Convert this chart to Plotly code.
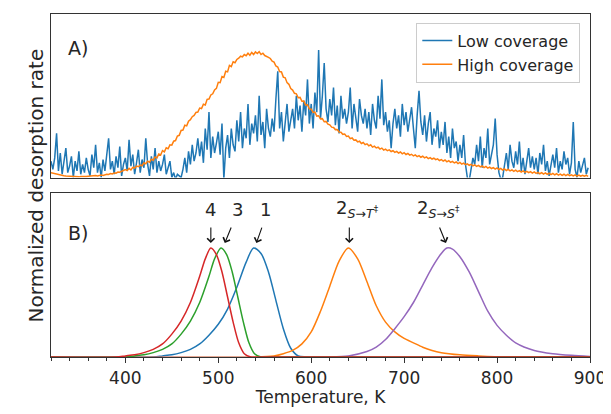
import plotly.graph_objects as go
import numpy as np
from plotly.subplots import make_subplots

# ---- panel A: measured TPD traces, 2 K grid from 320 K ----
temp_a = np.arange(320, 900, 2)

low_cov = [0.1, 0.05, 0.12, 0.27, 0.04, 0.15, 0.02, 0.09, 0.18, 0.03,
           0.07, 0.13, 0.0, 0.1, 0.04, 0.16, 0.02, 0.08, 0.03, 0.12,
           0.05, 0.01, 0.14, 0.06, 0.2, 0.03, 0.09, 0.0, 0.11, 0.04,
           0.15, 0.24, 0.05, 0.1, 0.02, 0.13, 0.06, 0.19, 0.01, 0.08,
           0.12, 0.04, 0.23, 0.07, 0.14, 0.02, 0.09, 0.17, 0.03, 0.11,
           0.06, 0.24, 0.08, 0.01, 0.13, 0.05, 0.18, 0.03, 0.1, 0.04,
           0.08, 0.14, 0.02, 0.06, 0.1, 0.0, 0.03, -0.01, 0.02, 0.01,
           0.0, 0.05, 0.12, 0.03, 0.16, 0.08, 0.2, 0.1, 0.15, 0.24,
           0.13, 0.22, 0.09, 0.3, 0.17, 0.4, 0.12, 0.25, 0.15, 0.21,
           0.28, 0.14, 0.33, -0.01, 0.18, 0.26, 0.12, 0.3, 0.2, 0.16,
           0.35, 0.22, 0.4, 0.18, 0.3, 0.24, 0.45, 0.2, 0.33, 0.27,
           0.38, 0.22, 0.5, 0.26, 0.34, 0.18, 0.42, 0.3, 0.25, 0.36,
           0.28, 0.48, 0.65, 0.3, 0.4, 0.22, 0.36, 0.45, 0.28, 0.34,
           0.42, 0.3, 0.5, 0.35, 0.44, 0.28, 0.47, 0.38, 0.6, 0.33,
           0.45, 0.3, 0.52, 0.4, 0.78, 0.36, 0.5, 0.7, 0.42, 0.34,
           0.48, 0.38, 0.55, 0.32, 0.44, 0.27, 0.5, 0.36, 0.42, 0.33,
           0.4, 0.55, 0.3, 0.45, 0.36, 0.28, 0.48, 0.38, 0.33, 0.42,
           0.3, 0.4, 0.26, 0.45, 0.35, 0.3, 0.5, 0.36, 0.6, 0.32,
           0.4, 0.28, 0.35, 0.18, 0.33, 0.42, 0.3, 0.38, 0.25, 0.45,
           0.32, 0.4, 0.28, 0.36, 0.43, 0.3, 0.18, 0.38, 0.53, 0.34,
           0.26, 0.38, 0.22, 0.33, 0.4, 0.2, 0.3, 0.25, 0.35, 0.18,
           0.28, 0.2, 0.34, 0.15, 0.25, 0.12, 0.3, 0.18, 0.22, 0.1,
           0.2, 0.12, 0.26, 0.08, 0.0, -0.02, 0.05, 0.12, 0.08, 0.2,
           0.1, 0.25, 0.06, 0.18, 0.12, 0.3, 0.08, 0.15, 0.2, 0.36,
           0.14, 0.03, -0.01, 0.0, 0.08, 0.15, 0.05, 0.2, 0.1, 0.06,
           0.16, 0.08, 0.22, 0.04, 0.12, 0.02, 0.1, 0.18, 0.06, 0.13,
           0.05, 0.12, 0.02, 0.15, 0.08, 0.2, 0.04, 0.1, 0.01, 0.07,
           0.14, 0.06, 0.18, 0.03, 0.1, 0.05, 0.16, 0.08, 0.12, 0.02,
           0.09, 0.34, 0.05, 0.0, 0.1, 0.03, 0.08, 0.12, 0.02, 0.06]

high_cov = [0.03, 0.027, 0.022, 0.02, 0.016, 0.015, 0.012, 0.011, 0.009, 0.008,
            0.008, 0.006, 0.007, 0.005, 0.006, 0.004, 0.006, 0.005, 0.008, 0.007,
            0.008, 0.01, 0.009, 0.011, 0.012, 0.01, 0.014, 0.015, 0.013, 0.017,
            0.02, 0.019, 0.024, 0.022, 0.028, 0.027, 0.033, 0.032, 0.038, 0.04,
            0.048, 0.042, 0.056, 0.046, 0.062, 0.058, 0.07, 0.066, 0.076, 0.072,
            0.09, 0.084, 0.1, 0.094, 0.112, 0.106, 0.126, 0.12, 0.144, 0.138,
            0.165, 0.157, 0.182, 0.176, 0.2, 0.198, 0.222, 0.226, 0.254, 0.258,
            0.288, 0.29, 0.32, 0.316, 0.345, 0.354, 0.372, 0.38, 0.398, 0.4,
            0.425, 0.422, 0.448, 0.444, 0.478, 0.48, 0.505, 0.512, 0.536, 0.545,
            0.582, 0.58, 0.618, 0.612, 0.65, 0.646, 0.686, 0.678, 0.708, 0.702,
            0.722, 0.73, 0.742, 0.738, 0.752, 0.745, 0.76, 0.748, 0.765, 0.752,
            0.768, 0.758, 0.77, 0.752, 0.76, 0.746, 0.742, 0.735, 0.728, 0.712,
            0.706, 0.682, 0.676, 0.648, 0.646, 0.614, 0.61, 0.58, 0.57, 0.544,
            0.535, 0.515, 0.512, 0.488, 0.49, 0.466, 0.467, 0.444, 0.445, 0.42,
            0.418, 0.398, 0.4, 0.376, 0.378, 0.358, 0.36, 0.341, 0.343, 0.326,
            0.322, 0.308, 0.306, 0.293, 0.294, 0.278, 0.277, 0.264, 0.266, 0.251,
            0.254, 0.238, 0.242, 0.228, 0.23, 0.218, 0.222, 0.208, 0.214, 0.201,
            0.206, 0.194, 0.2, 0.186, 0.192, 0.181, 0.186, 0.174, 0.18, 0.168,
            0.174, 0.164, 0.169, 0.159, 0.164, 0.154, 0.16, 0.149, 0.156, 0.145,
            0.152, 0.141, 0.147, 0.137, 0.142, 0.132, 0.138, 0.128, 0.134, 0.124,
            0.13, 0.12, 0.126, 0.116, 0.122, 0.113, 0.118, 0.109, 0.114, 0.104,
            0.11, 0.1, 0.107, 0.096, 0.103, 0.093, 0.099, 0.089, 0.095, 0.085,
            0.092, 0.082, 0.088, 0.079, 0.084, 0.075, 0.081, 0.071, 0.077, 0.068,
            0.074, 0.065, 0.071, 0.061, 0.068, 0.058, 0.064, 0.055, 0.061, 0.052,
            0.059, 0.049, 0.056, 0.046, 0.053, 0.043, 0.05, 0.041, 0.047, 0.038,
            0.045, 0.036, 0.042, 0.033, 0.04, 0.031, 0.038, 0.03, 0.036, 0.027,
            0.034, 0.025, 0.032, 0.023, 0.03, 0.021, 0.028, 0.02, 0.027, 0.018,
            0.025, 0.016, 0.023, 0.015, 0.021, 0.013, 0.02, 0.012, 0.019, 0.011,
            0.017, 0.01, 0.016, 0.009, 0.015, 0.008, 0.014, 0.008, 0.013, 0.007]

# ---- panel B: simulated peaks ----
t_4 = [320, 390, 400, 410, 420, 430, 440, 450, 460, 470, 480, 486, 492, 498, 504, 510, 516, 522, 528, 535, 545, 900]
y_4 = [0, 0, 0.01, 0.02, 0.04, 0.07, 0.12, 0.21, 0.33, 0.5, 0.74, 0.9, 1.0, 0.94, 0.78, 0.55, 0.32, 0.13, 0.03, 0.0, 0, 0]

t_3 = [320, 400, 410, 420, 430, 440, 450, 460, 470, 480, 490, 496, 503, 509, 515, 521, 527, 533, 539, 546, 556, 900]
y_3 = [0, 0, 0.01, 0.02, 0.04, 0.07, 0.12, 0.21, 0.33, 0.5, 0.74, 0.9, 1.0, 0.94, 0.78, 0.55, 0.32, 0.13, 0.03, 0.0, 0, 0]

t_1 = [320, 430, 440, 450, 460, 470, 480, 490, 500, 510, 520, 530, 538, 546, 554, 562, 570, 578, 586, 595, 900]
y_1 = [0, 0, 0.01, 0.02, 0.04, 0.07, 0.12, 0.2, 0.3, 0.44, 0.64, 0.87, 1.0, 0.95, 0.78, 0.52, 0.26, 0.08, 0.01, 0.0, 0]

t_2st = [320, 540, 560, 570, 580, 590, 600, 610, 620, 630, 640, 650, 660, 670, 680, 690, 700, 710, 720, 730, 740, 760, 780, 810, 900]
y_2st = [0, 0, 0.01, 0.03, 0.06, 0.12, 0.23, 0.42, 0.65, 0.88, 1.0, 0.9, 0.69, 0.47, 0.32, 0.23, 0.17, 0.13, 0.09, 0.06, 0.04, 0.02, 0.01, 0.0, 0]

t_2ss = [320, 620, 640, 660, 670, 680, 690, 700, 710, 720, 730, 740, 746, 752, 760, 770, 780, 790, 800, 810, 820, 840, 860, 880, 900]
y_2ss = [0, 0, 0.01, 0.05, 0.09, 0.16, 0.26, 0.37, 0.5, 0.66, 0.82, 0.95, 1.0, 0.99, 0.92, 0.78, 0.6, 0.42, 0.29, 0.2, 0.13, 0.06, 0.03, 0.015, 0.005]

c_blue, c_orange, c_green, c_red, c_purple = '#1f77b4', '#ff7f0e', '#2ca02c', '#d62728', '#9467bd'
txt = '#262626'
fnt = 'DejaVu Sans, sans-serif'

fig = make_subplots(rows=2, cols=1, shared_xaxes=True, vertical_spacing=16/344)

fig.add_trace(go.Scatter(x=temp_a, y=low_cov, mode='lines', name='Low coverage',
                         line=dict(color=c_blue, width=1.5)), row=1, col=1)
fig.add_trace(go.Scatter(x=temp_a, y=high_cov, mode='lines', name='High coverage',
                         line=dict(color=c_orange, width=1.5)), row=1, col=1)

for tt, yy, cc in [(t_1, y_1, c_blue), (t_2st, y_2st, c_orange), (t_2ss, y_2ss, c_purple),
                   (t_3, y_3, c_green), (t_4, y_4, c_red)]:
    fig.add_trace(go.Scatter(x=tt, y=yy, mode='lines', showlegend=False,
                             line=dict(color=cc, width=1.5, shape='spline', smoothing=0.8)),
                  row=2, col=1)

ax_common = dict(showline=True, mirror=True, linecolor='#333333', linewidth=1.2,
                 showgrid=False, zeroline=False, range=[320, 900])
fig.update_xaxes(**ax_common)
fig.update_xaxes(showticklabels=False, ticks='', row=1, col=1)
fig.update_xaxes(ticks='outside', ticklen=5, tickwidth=1.2, tickcolor='#333333', dtick=100, tick0=0,
                 minor=dict(dtick=20, tick0=0, ticks='outside', ticklen=3, tickwidth=1, tickcolor='#333333'),
                 tickfont=dict(size=17, color=txt),
                 title=dict(text='Temperature, K', font=dict(size=17, color=txt), standoff=3),
                 row=2, col=1)
fig.update_yaxes(showline=True, mirror=True, linecolor='#333333', linewidth=1.2,
                 showgrid=False, zeroline=False, showticklabels=False, ticks='')
fig.update_yaxes(range=[0, 1], row=1, col=1)
fig.update_yaxes(range=[0, 1.5], row=2, col=1)

# panel labels and shared y title
fig.add_annotation(text='A)', xref='x', yref='y', x=336, y=0.79, showarrow=False,
                   xanchor='left', font=dict(size=19, color=txt))
fig.add_annotation(text='B)', xref='x2', yref='y2', x=336, y=1.14, showarrow=False,
                   xanchor='left', font=dict(size=19, color=txt))
fig.add_annotation(text='Normalized desorption rate', xref='paper', yref='paper',
                   x=-0.054, y=0.5, textangle=-90, showarrow=False,
                   font=dict(size=20, color=txt))

# peak labels
labels = [('4', 492, 1.355), ('3', 521, 1.355), ('1', 551, 1.355),
          ('2<sub><i>S</i>→<i>T</i><sup>‡</sup></sub>', 650, 1.36),
          ('2<sub><i>S</i>→<i>S</i><sup>‡</sup></sub>', 737, 1.36)]
for t, x, y in labels:
    fig.add_annotation(text=t, xref='x2', yref='y2', x=x, y=y, showarrow=False,
                       font=dict(size=18, color=txt))

arrows = [(492, 0), (507, 7), (541, 6), (641, 0), (745, -7)]
for x, dx in arrows:
    fig.add_annotation(text='', xref='x2', yref='y2', x=x, y=1.045, ax=dx, ay=-17,
                       showarrow=True, arrowhead=4, arrowsize=1.3, arrowwidth=1.1,
                       arrowcolor='#111111')

# page body has an 8 px margin, so the figure is 8 px smaller and margins shifted
fig.update_layout(
    width=603, height=406,
    margin=dict(l=43, r=18, t=5, b=57),
    plot_bgcolor='white', paper_bgcolor='white',
    font=dict(family=fnt, color=txt),
    legend=dict(x=0.982, y=0.975, xanchor='right', yanchor='top',
                bordercolor='#cccccc', borderwidth=1, bgcolor='white',
                font=dict(size=16, color=txt)),
)

fig.write_html("out.html")
